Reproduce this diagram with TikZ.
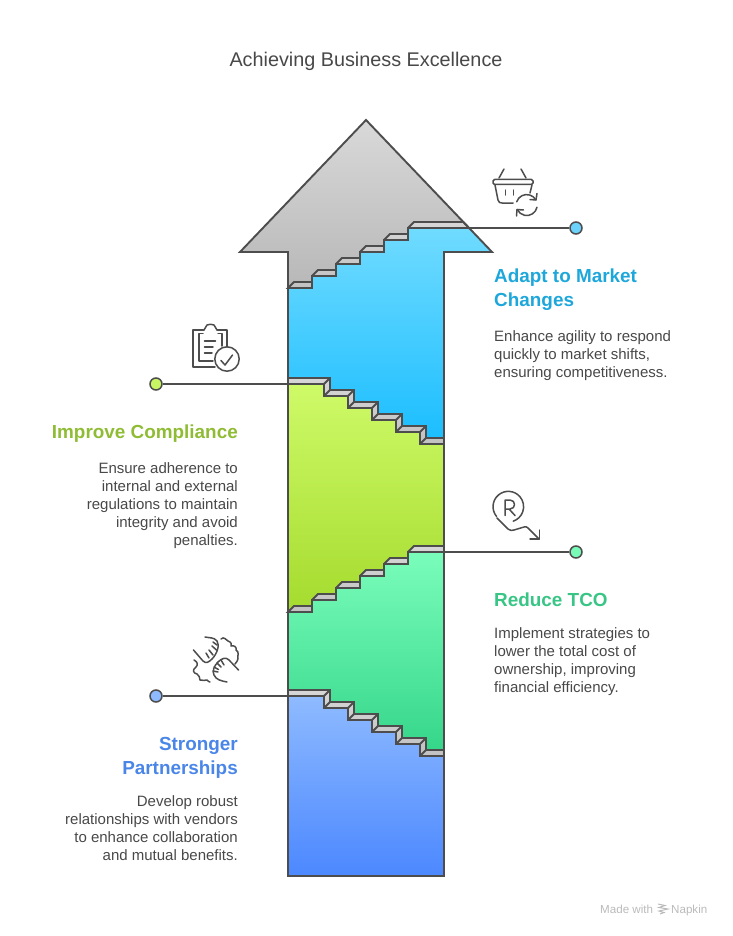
\documentclass[tikz,border=0pt]{standalone}
\usepackage{fontspec}
\setmainfont{Liberation Sans}
\definecolor{linegray}{HTML}{4D4D4D}
\definecolor{textgray}{HTML}{484848}
\definecolor{adaptblue}{HTML}{1EA7DA}
\definecolor{compgreen}{HTML}{8FBC34}
\definecolor{tcogreen}{HTML}{38C585}
\definecolor{partblue}{HTML}{4A86E8}
\tikzset{
  outline/.style={draw=linegray, line width=1.9pt, line join=miter},
  tread/.style={draw=linegray, line width=1.9pt, line join=miter, top color=black!16, bottom color=black!24},
  conn/.style={draw=linegray, line width=1.6pt},
  icon/.style={draw=linegray, line width=1.5pt, line cap=round, line join=round},
  dot/.style={circle, draw=linegray, line width=1.5pt, minimum size=12pt, inner sep=0pt},
  heading/.style={font=\fontsize{18.9}{24}\selectfont\bfseries, inner sep=0pt},
  body/.style={font=\fontsize{15}{18}\selectfont, text=textgray, inner sep=0pt},
  footer/.style={font=\fontsize{11.6}{12}\selectfont, text=black!27, anchor=base west, inner sep=0pt}
}
\begin{document}
\begin{tikzpicture}[x=1pt,y=-1pt]
\useasboundingbox (0,0) rectangle (732,936);

% title
\node[font=\fontsize{19.8}{24}\selectfont, text=textgray] (title) at (366,61.5) {Achieving Business Excellence};

% colour bands of the arrow
\shade[top color=black!15, bottom color=black!28] (366,120) -- (240,252) -- (288,252) -- (288,288) -- (294,282) -- (312,282) -- (312,276) -- (318,270) -- (336,270) -- (336,264) -- (342,258) -- (360,258) -- (360,252) -- (366,246) -- (384,246) -- (384,240) -- (390,234) -- (408,234) -- (408,228) -- (414,222) -- (463.4,222) -- cycle;
\shade[top color={rgb,255:red,112;green,219;blue,255}, bottom color={rgb,255:red,28;green,190;blue,255}] (288,288) -- (312,288) -- (312,276) -- (336,276) -- (336,264) -- (360,264) -- (360,252) -- (384,252) -- (384,240) -- (408,240) -- (408,228) -- (469,228) -- (492,252) -- (444,252) -- (444,438) -- (426,438) -- (426,426) -- (402,426) -- (402,414) -- (378,414) -- (378,402) -- (354,402) -- (354,390) -- (330,390) -- (330,378) -- (288,378) -- cycle;
\shade[top color={rgb,255:red,206;green,250;blue,104}, bottom color={rgb,255:red,165;green,219;blue,46}] (288,384) -- (324,384) -- (324,396) -- (348,396) -- (348,408) -- (372,408) -- (372,420) -- (396,420) -- (396,432) -- (420,432) -- (420,444) -- (444,444) -- (444,546) -- (414,546) -- (408,552) -- (408,558) -- (390,558) -- (384,564) -- (384,570) -- (366,570) -- (360,576) -- (360,582) -- (342,582) -- (336,588) -- (336,594) -- (318,594) -- (312,600) -- (312,606) -- (294,606) -- (288,612) -- cycle;
\shade[top color={rgb,255:red,122;green,253;blue,187}, bottom color={rgb,255:red,53;green,214;blue,138}] (288,612) -- (312,612) -- (312,600) -- (336,600) -- (336,588) -- (360,588) -- (360,576) -- (384,576) -- (384,564) -- (408,564) -- (408,552) -- (444,552) -- (444,750) -- (426,750) -- (426,738) -- (402,738) -- (402,726) -- (378,726) -- (378,714) -- (354,714) -- (354,702) -- (330,702) -- (330,690) -- (288,690) -- cycle;
\shade[top color={rgb,255:red,142;green,186;blue,255}, bottom color={rgb,255:red,76;green,136;blue,255}] (288,696) -- (324,696) -- (324,708) -- (348,708) -- (348,720) -- (372,720) -- (372,732) -- (396,732) -- (396,744) -- (420,744) -- (420,756) -- (444,756) -- (444,876) -- (288,876) -- cycle;

% rising steps
\draw[tread] (288,288) -- (294,282) -- (312,282) -- (312,276) -- (318,270) -- (336,270) -- (336,264) -- (342,258) -- (360,258) -- (360,252) -- (366,246) -- (384,246) -- (384,240) -- (390,234) -- (408,234) -- (408,228) -- (414,222) -- (463.4,222) -- (469,228) -- (408,228) -- (408,240) -- (384,240) -- (384,252) -- (360,252) -- (360,264) -- (336,264) -- (336,276) -- (312,276) -- (312,288) -- cycle;
\draw[tread] (288,612) -- (294,606) -- (312,606) -- (312,600) -- (318,594) -- (336,594) -- (336,588) -- (342,582) -- (360,582) -- (360,576) -- (366,570) -- (384,570) -- (384,564) -- (390,558) -- (408,558) -- (408,552) -- (414,546) -- (444,546) -- (444,552) -- (408,552) -- (408,564) -- (384,564) -- (384,576) -- (360,576) -- (360,588) -- (336,588) -- (336,600) -- (312,600) -- (312,612) -- cycle;

% falling steps
\foreach \dy in {0,312}{
  \draw[tread, yshift=-\dy pt] (288,378) -- (330,378) -- (330,390) -- (354,390) -- (354,402) -- (378,402) -- (378,414) -- (402,414) -- (402,426) -- (426,426) -- (426,438) -- (444,438) -- (444,444) -- (420,444) -- (420,432) -- (396,432) -- (396,420) -- (372,420) -- (372,408) -- (348,408) -- (348,396) -- (324,396) -- (324,384) -- (288,384) -- cycle;
  \draw[outline, yshift=-\dy pt] (324,384) -- (330,378) (324,396) -- (330,390) (348,396) -- (354,390) (348,408) -- (354,402) (372,408) -- (378,402) (372,420) -- (378,414) (396,420) -- (402,414) (396,432) -- (402,426) (420,432) -- (426,426) (420,444) -- (426,438);
}

% arrow outline
\draw[outline] (366,120) -- (492,252) -- (444,252) -- (444,876) -- (288,876) -- (288,252) -- (240,252) -- cycle;

% end dots and connectors
\node[dot, fill={rgb,255:red,108;green,210;blue,251}] (adaptdot) at (576,228) {};
\node[dot, fill={rgb,255:red,200;green,245;blue,100}] (compdot) at (156,384) {};
\node[dot, fill={rgb,255:red,122;green,250;blue,185}] (tcodot) at (576,552) {};
\node[dot, fill={rgb,255:red,142;green,186;blue,255}] (partdot) at (156,696) {};
\coordinate (adaptend) at (468,228);
\coordinate (compend) at (288,384);
\coordinate (tcoend) at (444,552);
\coordinate (partend) at (288,696);
\draw[conn] (adaptdot) -- (adaptend);
\draw[conn] (compdot) -- (compend);
\draw[conn] (tcodot) -- (tcoend);
\draw[conn] (partdot) -- (partend);

% right hand labels
\node[heading, text=adaptblue, anchor=north west, align=left] (adapthead) at (494,269) {Adapt to Market\\Changes};
\node[body, anchor=north west, align=left] (adaptbody) at (494,330) {Enhance agility to respond\\quickly to market shifts,\\ensuring competitiveness.};
\node[heading, text=tcogreen, anchor=north west, align=left] (tcohead) at (494,593) {Reduce TCO};
\node[body, anchor=north west, align=left] (tcobody) at (494,627) {Implement strategies to\\lower the total cost of\\ownership, improving\\financial efficiency.};

% left hand labels
\node[heading, text=compgreen, anchor=north east, align=right] (comphead) at (238,425) {Improve Compliance};
\node[body, anchor=north east, align=right] (compbody) at (238,462) {Ensure adherence to\\internal and external\\regulations to maintain\\integrity and avoid\\penalties.};
\node[heading, text=partblue, anchor=north east, align=right] (parthead) at (238,737) {Stronger\\Partnerships};
\node[body, anchor=north east, align=right] (partbody) at (238,795) {Develop robust\\relationships with vendors\\to enhance collaboration\\and mutual benefits.};

% basket icon
\draw[icon, rounded corners=1.5pt] (493,179.5) rectangle (533,184.5);
\draw[icon] (499,178) -- (504,169) (526,178) -- (521,169);
\draw[icon] (495,185) -- (498,200) .. controls (498.5,202.5) and (500,203) .. (502,203) -- (513,203) (532,185) -- (530,193);
\draw[icon] (505.7,190) -- (505.7,195) (513.5,190) -- (513.5,195);
\draw[icon] (516.7,201.8) arc (198:330:10.5);
\draw[icon] (537,207.2) arc (12:155:10.5);
\draw[icon] (537,193.5) -- (536,200) -- (530,199.5) (516.5,216) -- (517,209.5) -- (523.5,210);

% clipboard icon
\draw[icon] (204,330) -- (193,330) -- (193,367) -- (215,367);
\draw[icon] (217,330) -- (227,330) -- (227,347);
\draw[icon] (204,330) -- (207,325) .. controls (209,324) and (212,324) .. (214,325) -- (217,330);
\draw[icon] (203,333.5) -- (199,333.5) -- (199,361) -- (213,361);
\draw[icon] (218,333.5) -- (222,333.5) -- (222,346);
\draw[icon] (204.5,341) -- (215.5,341) (204.5,347) -- (213,347) (204.5,353) -- (212,353);
\draw[icon] (227,359) circle (12.2);
\draw[icon] (221,360.5) -- (225,365) -- (232.5,355);

% rupee style icon
\draw[icon] (496.6,516.5) arc (140:431:15.3);
\draw[icon] (505,515.5) -- (505,500) -- (510,500) .. controls (516,500) and (516,509) .. (510,509) -- (505,509) (509,509) -- (515,515.5);
\draw[icon] (497,518) -- (508,529) .. controls (510,531) and (512,530.5) .. (514,530) -- (524,527) .. controls (526,526.5) and (527,527) .. (528,528) -- (539,539);
\draw[icon] (539.5,530) -- (539.5,539) -- (530,539);

% hands icon
\draw[icon] (193.5,650) -- (203,661) .. controls (206,664) and (209,662) .. (212,659) .. controls (217,654) and (220,645) .. (217,641) .. controls (214,637) and (209,638) .. (205,637);
\draw[icon] (206,653) -- (209,658) (209,650) -- (213,655) (212,646) -- (216.5,650) (213,642) -- (217,645);
\draw[icon] (221,639) .. controls (224,636) and (226,640) .. (228,641) .. controls (231,642) and (232,644) .. (231,646) .. controls (234,645) and (237,647) .. (236,650) .. controls (240,652) and (237,656) .. (238,659) .. controls (238,661) and (236,662) .. (235,664);
\draw[icon] (238.5,670) -- (229,660) .. controls (226,657) and (222,658) .. (218,662) .. controls (214,666) and (212,671) .. (214,675) .. controls (216,680) and (222,681) .. (227,682);
\draw[icon] (213,671) -- (218,672) (214,667) -- (218.5,669.5) (217,663) -- (221,667) (221,660) -- (224,665);
\draw[icon] (194,660) .. controls (198,662) and (198,665) .. (196,667) .. controls (192,670) and (193,673) .. (197,674) .. controls (200,675) and (199,678) .. (200,680) .. controls (203,682) and (205,679) .. (207,680) .. controls (208,681) and (209,682) .. (210,682);

% footer
\node[footer] (madewith) at (600,913) {Made with};
\node[footer] (napkin) at (671,913) {Napkin};
\draw[draw=black!27, line width=1pt] (658,904) -- (665,905.5) -- (659,907.5) -- (668,909) -- (659,911) -- (664,912.5) -- (660,914);
\end{tikzpicture}
\end{document}
